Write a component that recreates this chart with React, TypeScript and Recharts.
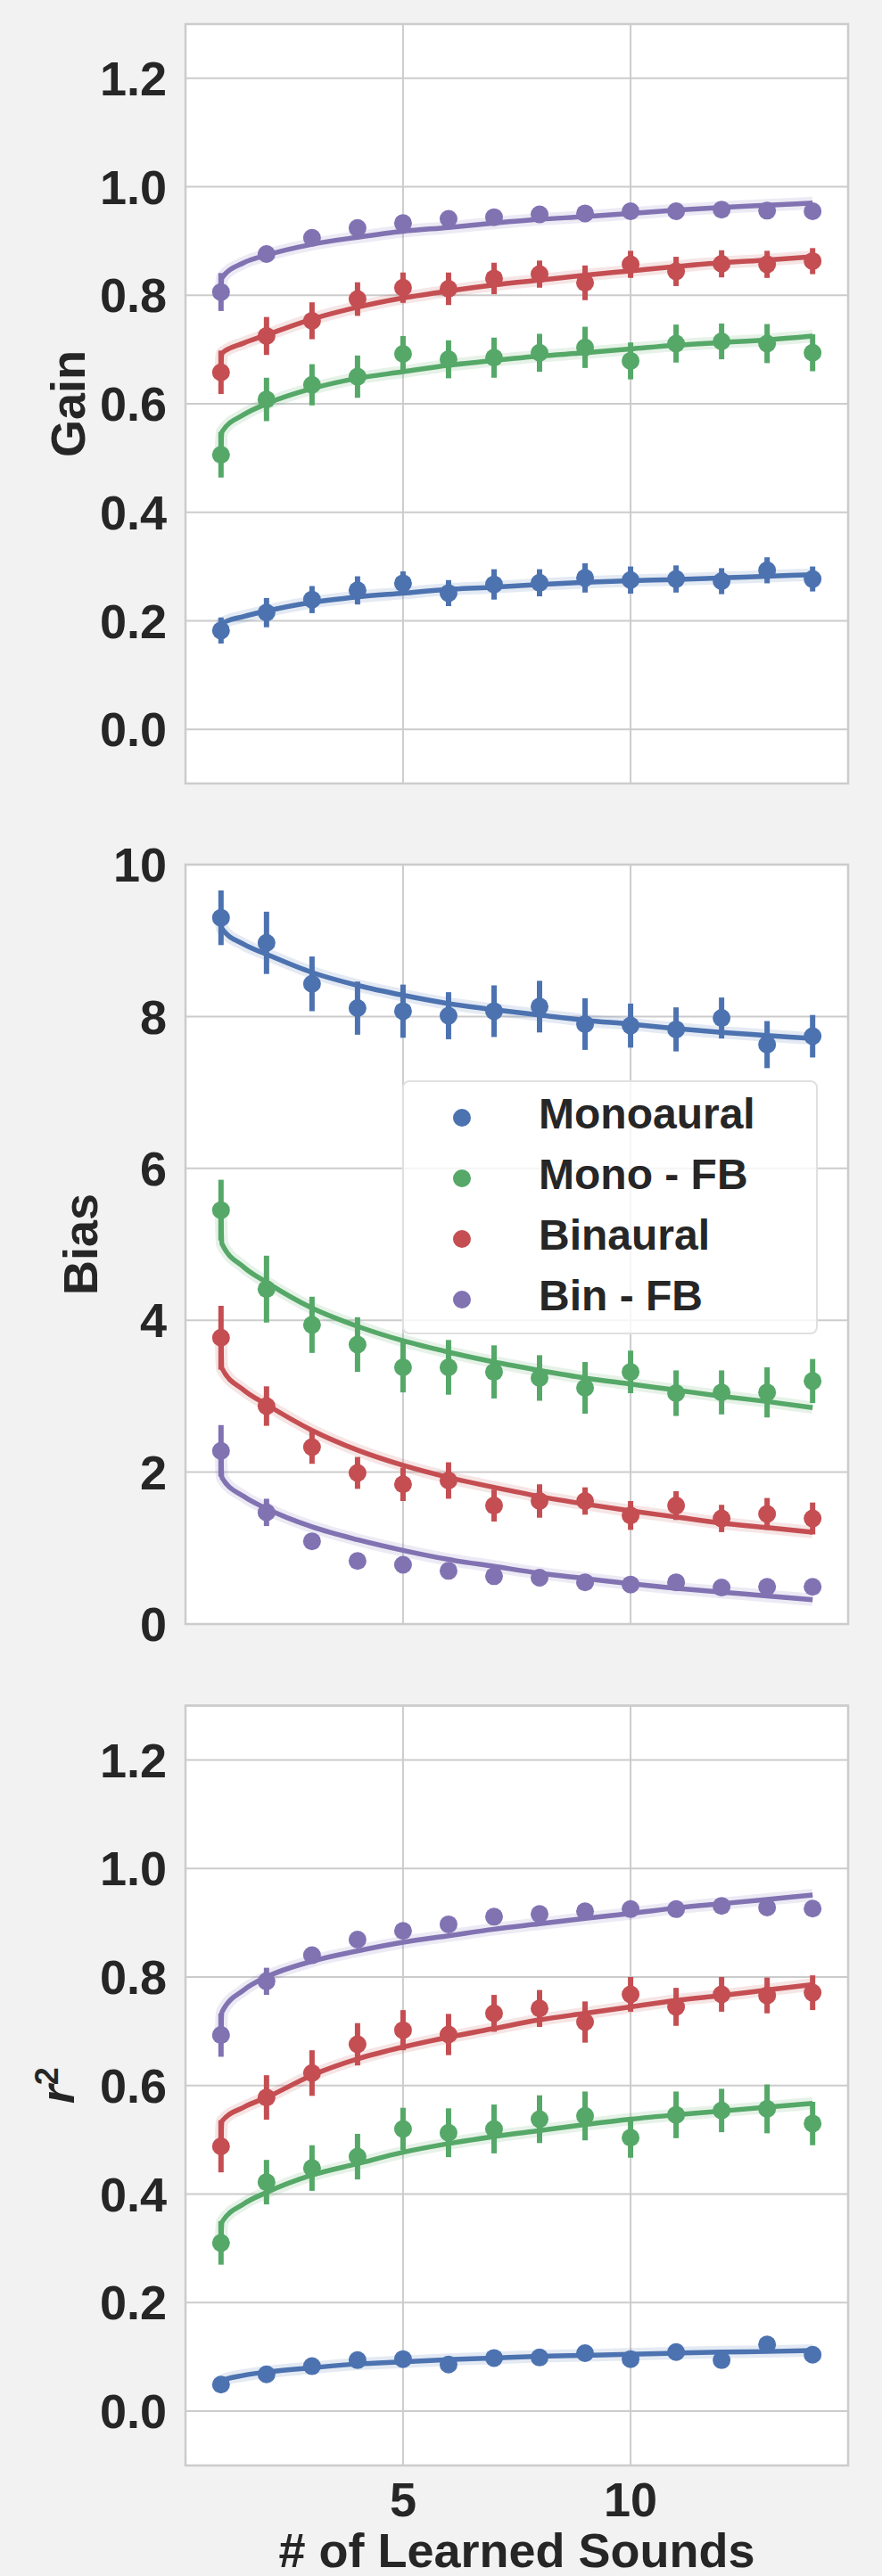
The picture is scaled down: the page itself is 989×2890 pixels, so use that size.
import React from 'react';
import { ComposedChart, Line, Scatter, ErrorBar, XAxis, YAxis, CartesianGrid, ReferenceArea, Legend } from 'recharts';

const FONT = '"Liberation Sans", Arial, Helvetica, sans-serif';
const INK = '#262626';
const GRID = '#cccccc';

// series order: Monoaural, Mono - FB, Binaural, Bin - FB
const seriesNames = ['Monoaural', 'Mono - FB', 'Binaural', 'Bin - FB'];
const seriesColors = ['#4c72b0', '#55a868', '#c44e52', '#8172b2'];

const soundCounts = [1, 2, 3, 4, 5, 6, 7, 8, 9, 10, 11, 12, 13, 14];
const fitCounts = [1, 1.02, 1.5, 2, 3, 4, 5, 6, 7, 8, 9, 10, 11, 12, 13, 14];
const xDomain: [number, number] = [0.22, 14.78];
const xTicks = [5, 10];

// ---- Gain ----
const gainTicks = [0, 0.2, 0.4, 0.6, 0.8, 1.0, 1.2];
const gainMeans = [
  [0.182, 0.215, 0.239, 0.256, 0.269, 0.251, 0.267, 0.270, 0.279, 0.275, 0.277, 0.273, 0.293, 0.277],
  [0.506, 0.608, 0.635, 0.650, 0.692, 0.682, 0.685, 0.694, 0.704, 0.679, 0.711, 0.715, 0.711, 0.694],
  [0.658, 0.725, 0.753, 0.793, 0.814, 0.812, 0.831, 0.839, 0.823, 0.857, 0.844, 0.858, 0.857, 0.863],
  [0.806, 0.876, 0.906, 0.924, 0.933, 0.941, 0.944, 0.949, 0.951, 0.955, 0.955, 0.958, 0.956, 0.955],
];
const gainErrs = [
  [0.024, 0.027, 0.025, 0.026, 0.022, 0.024, 0.028, 0.025, 0.027, 0.025, 0.025, 0.024, 0.024, 0.023],
  [0.042, 0.040, 0.038, 0.039, 0.033, 0.035, 0.037, 0.035, 0.038, 0.034, 0.035, 0.033, 0.036, 0.034],
  [0.040, 0.035, 0.034, 0.031, 0.028, 0.030, 0.029, 0.025, 0.032, 0.025, 0.027, 0.025, 0.025, 0.024],
  [0.035, 0.015, 0.010, 0.008, 0.008, 0.007, 0.007, 0.006, 0.006, 0.006, 0.006, 0.006, 0.006, 0.006],
];
const gainFits = [
  [0.184, 0.195, 0.208, 0.218, 0.234, 0.244, 0.251, 0.258, 0.262, 0.267, 0.271, 0.274, 0.276, 0.279, 0.282, 0.285],
  [0.515, 0.548, 0.580, 0.600, 0.628, 0.647, 0.659, 0.671, 0.680, 0.688, 0.694, 0.701, 0.708, 0.713, 0.718, 0.725],
  [0.670, 0.693, 0.712, 0.727, 0.756, 0.778, 0.795, 0.808, 0.819, 0.828, 0.837, 0.845, 0.853, 0.860, 0.865, 0.871],
  [0.808, 0.832, 0.860, 0.874, 0.894, 0.907, 0.918, 0.925, 0.933, 0.940, 0.945, 0.951, 0.957, 0.962, 0.966, 0.970],
];

// ---- Bias ----
const biasTicks = [0, 2, 4, 6, 8, 10];
const biasMeans = [
  [9.30, 8.97, 8.43, 8.11, 8.07, 8.01, 8.07, 8.13, 7.90, 7.88, 7.83, 7.98, 7.63, 7.74],
  [5.45, 4.41, 3.94, 3.68, 3.38, 3.38, 3.32, 3.24, 3.11, 3.32, 3.04, 3.05, 3.05, 3.20],
  [3.77, 2.87, 2.33, 1.99, 1.84, 1.89, 1.56, 1.62, 1.62, 1.43, 1.56, 1.39, 1.45, 1.39],
  [2.28, 1.47, 1.09, 0.83, 0.78, 0.70, 0.63, 0.61, 0.55, 0.52, 0.55, 0.48, 0.49, 0.49],
];
const biasErrs = [
  [0.36, 0.41, 0.36, 0.35, 0.35, 0.31, 0.34, 0.34, 0.34, 0.29, 0.29, 0.27, 0.31, 0.28],
  [0.40, 0.44, 0.37, 0.36, 0.33, 0.36, 0.35, 0.30, 0.34, 0.28, 0.30, 0.29, 0.33, 0.29],
  [0.42, 0.26, 0.22, 0.21, 0.22, 0.24, 0.21, 0.22, 0.18, 0.19, 0.19, 0.18, 0.21, 0.21],
  [0.34, 0.18, 0.06, 0.05, 0.05, 0.05, 0.04, 0.04, 0.04, 0.04, 0.04, 0.04, 0.04, 0.04],
];
const biasFits = [
  [9.30, 9.16, 8.95, 8.82, 8.58, 8.41, 8.28, 8.17, 8.09, 8.02, 7.95, 7.90, 7.84, 7.79, 7.75, 7.71],
  [5.40, 5.01, 4.70, 4.50, 4.16, 3.92, 3.73, 3.58, 3.45, 3.34, 3.24, 3.16, 3.08, 3.00, 2.93, 2.85],
  [3.85, 3.37, 3.08, 2.89, 2.55, 2.29, 2.09, 1.93, 1.80, 1.68, 1.58, 1.49, 1.41, 1.33, 1.27, 1.21],
  [2.25, 1.93, 1.68, 1.52, 1.28, 1.11, 0.97, 0.85, 0.76, 0.67, 0.60, 0.53, 0.47, 0.42, 0.37, 0.32],
];

// ---- r^2 ----
const r2Ticks = [0, 0.2, 0.4, 0.6, 0.8, 1.0, 1.2];
const r2Means = [
  [0.049, 0.068, 0.083, 0.094, 0.096, 0.086, 0.098, 0.099, 0.107, 0.096, 0.109, 0.094, 0.123, 0.104],
  [0.310, 0.422, 0.448, 0.469, 0.520, 0.513, 0.520, 0.538, 0.544, 0.504, 0.546, 0.554, 0.557, 0.530],
  [0.488, 0.578, 0.623, 0.676, 0.702, 0.694, 0.733, 0.742, 0.717, 0.768, 0.745, 0.768, 0.766, 0.771],
  [0.693, 0.792, 0.840, 0.869, 0.885, 0.897, 0.911, 0.916, 0.921, 0.925, 0.925, 0.931, 0.928, 0.926],
];
const r2Errs = [
  [0.008, 0.008, 0.010, 0.012, 0.010, 0.010, 0.011, 0.010, 0.012, 0.010, 0.011, 0.009, 0.013, 0.012],
  [0.040, 0.041, 0.042, 0.042, 0.039, 0.045, 0.045, 0.044, 0.045, 0.037, 0.043, 0.040, 0.045, 0.040],
  [0.048, 0.041, 0.042, 0.039, 0.037, 0.038, 0.034, 0.034, 0.038, 0.032, 0.035, 0.032, 0.033, 0.032],
  [0.040, 0.025, 0.012, 0.008, 0.006, 0.006, 0.006, 0.006, 0.006, 0.006, 0.006, 0.006, 0.006, 0.006],
];
const r2Fits = [
  [0.050, 0.056, 0.066, 0.072, 0.080, 0.087, 0.091, 0.095, 0.098, 0.101, 0.103, 0.105, 0.107, 0.109, 0.110, 0.112],
  [0.309, 0.348, 0.382, 0.403, 0.435, 0.456, 0.477, 0.493, 0.506, 0.517, 0.528, 0.538, 0.546, 0.553, 0.560, 0.567],
  [0.490, 0.534, 0.560, 0.578, 0.619, 0.649, 0.671, 0.689, 0.705, 0.721, 0.733, 0.745, 0.757, 0.766, 0.776, 0.786],
  [0.693, 0.735, 0.776, 0.800, 0.829, 0.848, 0.864, 0.876, 0.888, 0.898, 0.908, 0.917, 0.927, 0.935, 0.943, 0.951],
];

const tickStyle = { fill: INK, fontSize: 54, fontWeight: 'bold', fontFamily: FONT };
const noTick = () => <g />;

const LegendBox = () => (
  <div
    style={{
      position: 'relative',
      width: 466,
      height: 285,
      boxSizing: 'border-box',
      border: '2px solid #e0e0e0',
      borderRadius: 8,
      background: 'rgba(255,255,255,0.8)',
      fontFamily: FONT,
    }}
  >
    {seriesNames.map((name, i) => (
      <div
        key={name}
        style={{ position: 'absolute', left: 0, right: 0, top: 6 + i * 68, height: 68, display: 'flex', alignItems: 'center' }}
      >
        <svg width={20} height={20} style={{ marginLeft: 55, flex: 'none' }}>
          <circle cx={10} cy={10} r={10} fill={seriesColors[i]} />
        </svg>
        <span
          style={{
            marginLeft: 76,
            fontSize: 48,
            fontWeight: 'bold',
            color: INK,
            lineHeight: '68px',
            position: 'relative',
            top: -4,
            whiteSpace: 'nowrap',
          }}
        >
          {name}
        </span>
      </div>
    ))}
  </div>
);

type PanelProps = {
  top: number;
  height: number;
  marginTop: number;
  marginBottom: number;
  xAxisHeight: number;
  domain: [number, number];
  ticks: number[];
  fmt: (v: number) => string;
  means: number[][];
  errs: number[][];
  fits: number[][];
  yLabel: (cy: number) => React.ReactElement;
  showXTicks?: boolean;
  showLegend?: boolean;
};

const Panel = (p: PanelProps) => {
  const plotH = p.height - p.marginTop - p.marginBottom - p.xAxisHeight;
  const cy = p.marginTop + plotH / 2;
  return (
    <div style={{ position: 'absolute', left: 0, top: p.top }}>
      <ComposedChart
        width={989}
        height={p.height}
        margin={{ top: p.marginTop, right: 38, bottom: p.marginBottom, left: 0 }}
        style={{ fontFamily: FONT }}
      >
        <CartesianGrid stroke={GRID} strokeWidth={2} fill="#ffffff" />
        <XAxis
          dataKey="x"
          type="number"
          domain={xDomain}
          ticks={xTicks}
          allowDataOverflow
          axisLine={false}
          tickLine={false}
          tickSize={0}
          tickMargin={19}
          height={p.xAxisHeight}
          tick={p.showXTicks ? tickStyle : noTick}
          label={
            p.showXTicks
              ? () => (
                  <text x={579.5} y={1020} textAnchor="middle" fill={INK} fontSize={54} fontWeight="bold" fontFamily={FONT}>
                    # of Learned Sounds
                  </text>
                )
              : undefined
          }
        />
        <YAxis
          dataKey="y"
          type="number"
          domain={p.domain}
          ticks={p.ticks}
          allowDataOverflow
          interval={0}
          axisLine={false}
          tickLine={false}
          tickSize={0}
          tickMargin={21}
          width={208}
          tick={tickStyle}
          tickFormatter={p.fmt}
          label={() => p.yLabel(cy)}
        />
        <ReferenceArea
          x1={xDomain[0]}
          x2={xDomain[1]}
          y1={p.domain[0]}
          y2={p.domain[1]}
          fill="none"
          fillOpacity={0}
          stroke={GRID}
          strokeWidth={2.5}
          ifOverflow="visible"
        />
        {p.fits.map((fit, i) => (
          <Line
            key={`band-${i}`}
            data={fitCounts.map((x, j) => ({ x, y: fit[j] }))}
            dataKey="y"
            type="monotone"
            stroke={seriesColors[i]}
            strokeOpacity={0.15}
            strokeWidth={14}
            dot={false}
            activeDot={false}
            isAnimationActive={false}
            legendType="none"
          />
        ))}
        {p.fits.map((fit, i) => (
          <Line
            key={`fit-${i}`}
            data={fitCounts.map((x, j) => ({ x, y: fit[j] }))}
            dataKey="y"
            type="monotone"
            stroke={seriesColors[i]}
            strokeWidth={5.5}
            dot={false}
            activeDot={false}
            isAnimationActive={false}
            legendType="none"
          />
        ))}
        {p.means.map((m, i) => (
          <Scatter
            key={`pts-${i}`}
            name={seriesNames[i]}
            data={soundCounts.map((x, j) => ({ x, y: m[j], err: p.errs[i][j] }))}
            dataKey="y"
            fill={seriesColors[i]}
            isAnimationActive={false}
            shape={(s: any) => <circle cx={s.cx} cy={s.cy} r={10} fill={seriesColors[i]} />}
          >
            <ErrorBar dataKey="err" direction="y" width={0} stroke={seriesColors[i]} strokeWidth={6} isAnimationActive={false} />
          </Scatter>
        ))}
        {p.showLegend && (
          <Legend
            layout="horizontal"
            verticalAlign="middle"
            align="center"
            content={() => <LegendBox />}
            wrapperStyle={{ left: 451, top: 282, width: 466, height: 285 }}
          />
        )}
      </ComposedChart>
    </div>
  );
};

const labelProps = { fill: INK, fontSize: 54, fontWeight: 'bold' as const, fontFamily: FONT, textAnchor: 'middle' as const };

const gainLabel = (cy: number) => (
  <text x={95} y={cy} transform={`rotate(-90 95 ${cy})`} {...labelProps}>
    Gain
  </text>
);
const biasLabel = (cy: number) => (
  <text x={109} y={cy} transform={`rotate(-90 109 ${cy})`} {...labelProps}>
    Bias
  </text>
);
const r2Label = (cy: number) => (
  <text x={83} y={cy} transform={`rotate(-90 83 ${cy})`} {...labelProps}>
    <tspan fontStyle="italic">r</tspan>
    <tspan fontSize={36} dy={-18}>2</tspan>
  </text>
);

export default function App() {
  return (
    <div style={{ position: 'absolute', left: 0, top: 0, width: 989, height: 2890, background: '#f2f2f2', overflow: 'hidden' }}>
      <Panel
        top={0}
        height={930}
        marginTop={27}
        marginBottom={51}
        xAxisHeight={0}
        domain={[-0.1, 1.3]}
        ticks={gainTicks}
        fmt={(v) => v.toFixed(1)}
        means={gainMeans}
        errs={gainErrs}
        fits={gainFits}
        yLabel={gainLabel}
      />
      <Panel
        top={930}
        height={930}
        marginTop={40}
        marginBottom={38}
        xAxisHeight={0}
        domain={[0, 10]}
        ticks={biasTicks}
        fmt={(v) => String(v)}
        means={biasMeans}
        errs={biasErrs}
        fits={biasFits}
        yLabel={biasLabel}
        showLegend
      />
      <Panel
        top={1860}
        height={1030}
        marginTop={53.5}
        marginBottom={0}
        xAxisHeight={124}
        domain={[-0.1, 1.3]}
        ticks={r2Ticks}
        fmt={(v) => v.toFixed(1)}
        means={r2Means}
        errs={r2Errs}
        fits={r2Fits}
        yLabel={r2Label}
        showXTicks
      />
    </div>
  );
}
